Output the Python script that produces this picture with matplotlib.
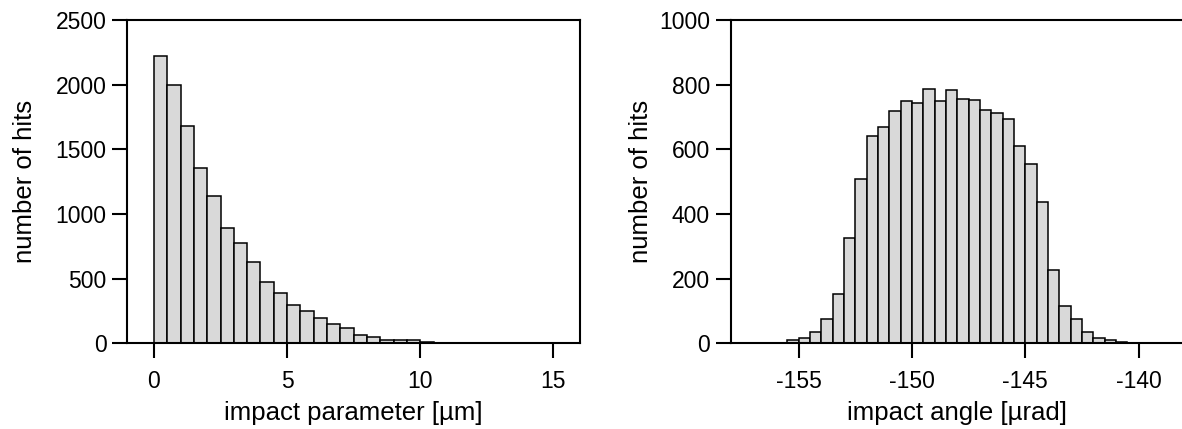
import matplotlib
matplotlib.use("Agg")
import matplotlib.pyplot as plt
import numpy as np

plt.rcParams['font.family'] = ['Liberation Sans', 'DejaVu Sans']

# Left histogram: impact parameter [um], bin width 0.5 starting at 0
param_edges_start = 0.0
param_bin_width = 0.5
param_counts = [2220, 2000, 1680, 1358, 1137, 890, 777, 630, 471, 386,
                298, 250, 193, 152, 116, 64, 51, 26, 26, 26, 10]

# Right histogram: impact angle [urad], bin width 0.5 starting at -155.5
angle_edges_start = -155.5
angle_bin_width = 0.5
angle_counts = [10, 15, 36, 76, 154, 325, 508, 640, 670, 718,
                749, 743, 788, 749, 782, 756, 753, 723, 713, 693,
                611, 556, 437, 227, 115, 76, 36, 15, 9, 5]

param_xticks = [0, 5, 10, 15]
param_yticks = [0, 500, 1000, 1500, 2000, 2500]
angle_xticks = [-155, -150, -145, -140]
angle_yticks = [0, 200, 400, 600, 800, 1000]

W, H = 1182, 429
fig = plt.figure(figsize=(W / 100, H / 100), dpi=100)

def px_axes(l, r, t, b):
    return fig.add_axes([l / W, (H - b) / H, (r - l) / W, (b - t) / H])

ax1 = px_axes(127.3, 580, 20, 343.3)
ax2 = px_axes(730.7, 1184, 20, 343.3)

bar_kw = dict(align='edge', color='#d9d9d9', edgecolor='black', linewidth=1.1)

x1 = param_edges_start + param_bin_width * np.arange(len(param_counts))
ax1.bar(x1, param_counts, width=param_bin_width, **bar_kw)
x2 = angle_edges_start + angle_bin_width * np.arange(len(angle_counts))
ax2.bar(x2, angle_counts, width=angle_bin_width, **bar_kw)

tick_fs = 16.5
label_fs = 18.5

for ax, xt, yt, xlim, ylim, xl in [
        (ax1, param_xticks, param_yticks, (-1, 16), (0, 2500), 'impact parameter [\u00b5m]'),
        (ax2, angle_xticks, angle_yticks, (-158, -138), (0, 1000), 'impact angle [\u00b5rad]')]:
    ax.set_xlim(*xlim)
    ax.set_ylim(*ylim)
    ax.set_xticks(xt)
    ax.set_yticks(yt)
    ax.set_xticklabels([str(v) for v in xt])
    ax.set_yticklabels([str(v) for v in yt])
    ax.tick_params(direction='out', length=11, width=1.5, labelsize=tick_fs)
    ax.tick_params(axis='x', pad=8)
    ax.tick_params(axis='y', pad=4)
    for s in ax.spines.values():
        s.set_linewidth(1.5)
    ax.set_xlabel(xl, fontsize=label_fs)
    ax.set_ylabel('number of hits', fontsize=label_fs)
    ax.xaxis.set_label_coords(0.5, -0.178)

ax2.spines['right'].set_visible(False)
ax1.yaxis.set_label_coords(-0.199, 0.5)
ax2.yaxis.set_label_coords(-0.171, 0.5)

fig.savefig('out.png', dpi=100)
